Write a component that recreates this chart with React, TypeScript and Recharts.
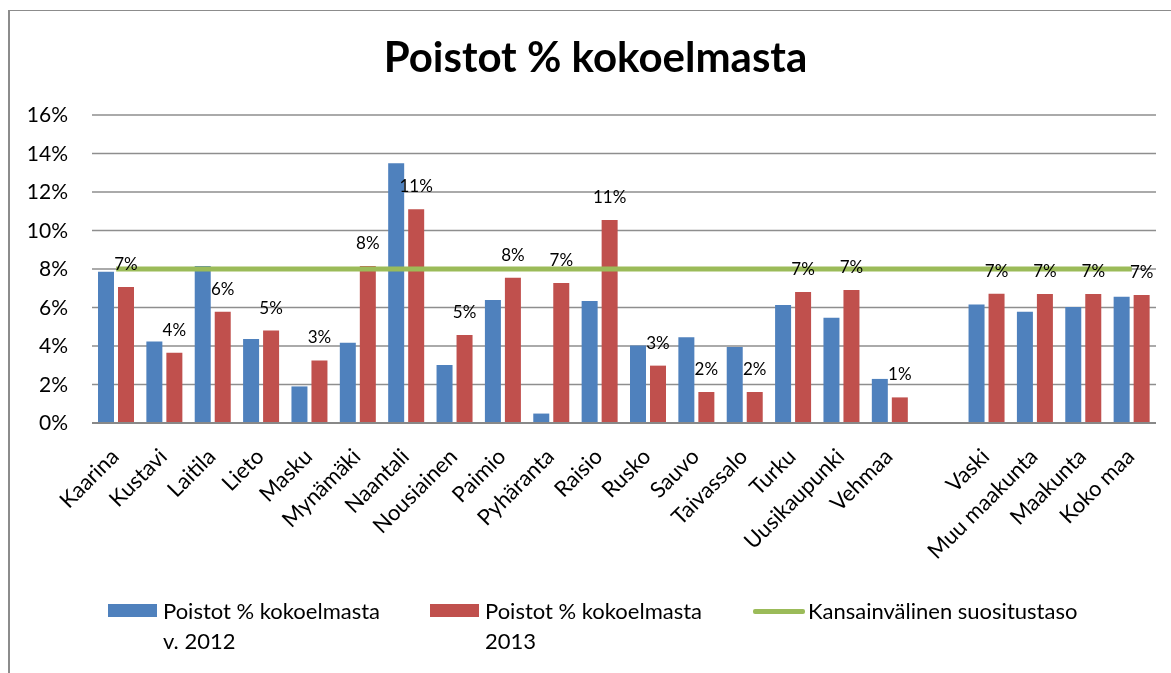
import {
  ComposedChart,
  Bar,
  Line,
  XAxis,
  YAxis,
  CartesianGrid,
  Legend,
  LabelList,
} from "recharts";

const kunnat = [
  "Kaarina",
  "Kustavi",
  "Laitila",
  "Lieto",
  "Masku",
  "Mynämäki",
  "Naantali",
  "Nousiainen",
  "Paimio",
  "Pyhäranta",
  "Raisio",
  "Rusko",
  "Sauvo",
  "Taivassalo",
  "Turku",
  "Uusikaupunki",
  "Vehmaa",
  "",
  "Vaski",
  "Muu maakunta",
  "Maakunta",
  "Koko maa",
];

const poistot2012 = [
  7.86, 4.24, 8.16, 4.36, 1.9, 4.17, 13.49, 3.01, 6.39, 0.49, 6.34, 4.02, 4.45,
  3.95, 6.13, 5.47, 2.29, null, 6.16, 5.78, 6.03, 6.56,
];

const poistot2013 = [
  7.06, 3.65, 5.78, 4.8, 3.25, 8.16, 11.1, 4.57, 7.55, 7.27, 10.55, 2.98, 1.61,
  1.61, 6.8, 6.91, 1.33, null, 6.72, 6.7, 6.7, 6.65,
];

const suositus = [
  8, 8, 8, 8, 8, 8, 8, 8, 8, 8, 8, 8, 8, 8, 8, 8, 8, 8, 8, 8, 8, 8,
];

const yTicks = [0, 2, 4, 6, 8, 10, 12, 14, 16];

const data = kunnat.map((kunta, i) => ({
  kunta,
  v2012: poistot2012[i],
  v2013: poistot2013[i],
  suositus: suositus[i],
}));

const legendPos: Record<string, number> = { v2012: 108, v2013: 430, suositus: 753 };

const CategoryTick = ({ x, y, payload }: any) => (
  <text
    x={0}
    y={0}
    transform={`translate(${x + 4},${y + 35}) rotate(-45)`}
    textAnchor="end"
    fontSize={22}
    fill="#000"
  >
    {payload.value}
  </text>
);

const renderLegend = ({ payload }: any) => (
  <div style={{ position: "relative", height: 70, fontSize: 22, lineHeight: "30px", color: "#000" }}>
    {(payload || []).map((item: any) => {
      const left = legendPos[item.dataKey] ?? 0;
      const isLine = item.dataKey === "suositus";
      return (
        <div key={item.dataKey} style={{ position: "absolute", left, top: 0, display: "flex" }}>
          {isLine ? (
            <div
              style={{ width: 52, height: 5, marginTop: 12.5, background: item.color, borderRadius: 2, marginRight: 3 }}
            />
          ) : (
            <div style={{ width: 49, height: 13, marginTop: 8, background: item.color, marginRight: 6 }} />
          )}
          <div style={{ width: isLine ? 330 : 237, whiteSpace: isLine ? "nowrap" : "normal" }}>{item.value}</div>
        </div>
      );
    })}
  </div>
);

const App = () => {
  return (
    <div style={{ fontFamily: "Lato, sans-serif" }}>
      <div
        style={{
          position: "fixed",
          left: 8,
          top: 10,
          width: 1200,
          height: 700,
          borderTop: "1px solid #8c8c8c",
          borderLeft: "2px solid #8c8c8c",
        }}
      />
      <div
        style={{
          position: "fixed",
          left: 0,
          top: 35,
          width: 1191,
          textAlign: "center",
          fontSize: 42,
          fontWeight: 700,
          lineHeight: "42px",
          color: "#000",
        }}
      >
        Poistot % kokoelmasta
      </div>
      <div style={{ position: "fixed", left: 0, top: 0 }}>
        <ComposedChart
          width={1171}
          height={673}
          data={data}
          margin={{ top: 115, right: 15, bottom: 140, left: 0 }}
          barGap={4}
          barCategoryGap={6}
        >
          <CartesianGrid vertical={false} stroke="#8e8e8e" strokeWidth={1.5} />
          <XAxis
            dataKey="kunta"
            interval={0}
            height={110}
            tickLine={false}
            tickSize={0}
            tickMargin={0}
            axisLine={{ stroke: "#888", strokeWidth: 2 }}
            tick={<CategoryTick />}
          />
          <YAxis
            width={92}
            domain={[0, 16]}
            ticks={yTicks}
            axisLine={false}
            tickLine={false}
            tickSize={0}
            tickMargin={24}
            tickFormatter={(v: number) => `${v}%`}
            tick={{ fill: "#000", fontSize: 21 }}
          />
          <Legend
            layout="vertical"
            align="center"
            verticalAlign="middle"
            wrapperStyle={{ left: 0, top: 596, width: 1171, height: 70 }}
            content={renderLegend}
          />
          <Bar
            dataKey="v2012"
            name="Poistot % kokoelmasta v. 2012"
            fill="#4F81BD"
            isAnimationActive={false}
          />
          <Bar
            dataKey="v2013"
            name="Poistot % kokoelmasta 2013"
            fill="#C0504D"
            isAnimationActive={false}
          >
            <LabelList
              dataKey="v2013"
              position="top"
              offset={17}
              fontSize={17}
              fill="#000"
              formatter={(v: any) => (v == null ? "" : `${Math.round(v)}%`)}
            />
          </Bar>
          <Line
            dataKey="suositus"
            name="Kansainvälinen suositustaso"
            type="linear"
            stroke="#9BBB59"
            strokeWidth={5}
            dot={false}
            activeDot={false}
            legendType="line"
            isAnimationActive={false}
          />
        </ComposedChart>
      </div>
    </div>
  );
};

export default App;
